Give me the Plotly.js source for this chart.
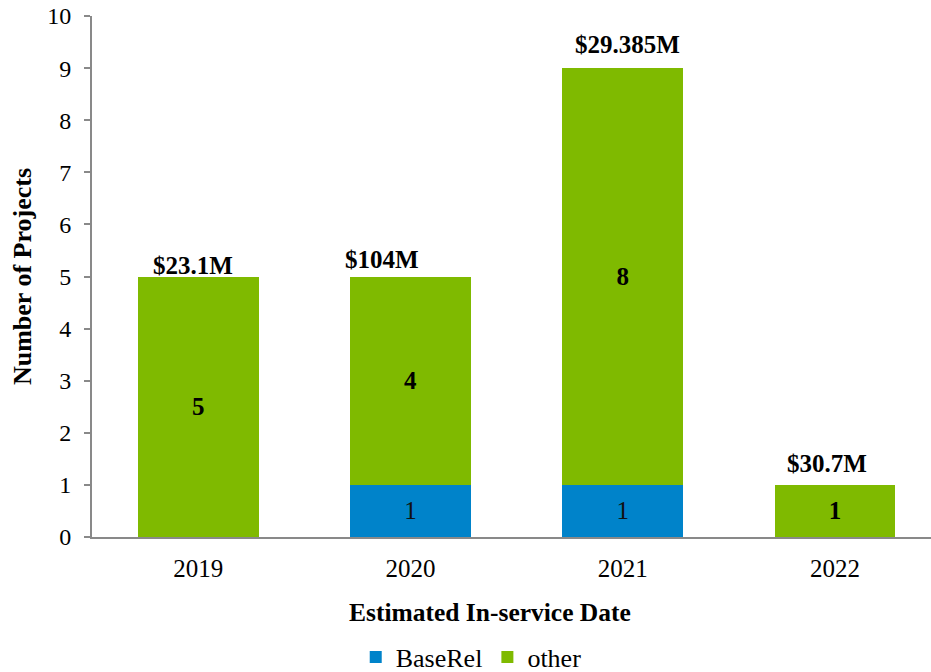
<!DOCTYPE html>
<html>
<head>
<meta charset="utf-8">
<script src="https://cdn.plot.ly/plotly-3.0.1.min.js"></script>
<style>html,body{margin:0;padding:0;background:#fff;}#chart{width:931px;height:672px;}</style>
</head>
<body>
<div id="chart"></div>
<script>
const years = ['2019', '2020', '2021', '2022'];
const baseRel = [0, 1, 1, 0];
const other = [5, 4, 8, 1];
const totalLabels = ['$23.1M', '$104M', '$29.385M', '$30.7M'];

const serif = 'Liberation Serif';
const blue = '#0083CA';
const green = '#7FBA00';

const traces = [
  {
    type: 'bar', name: 'BaseRel', x: years, y: baseRel,
    marker: {color: blue},
    text: baseRel.map(v => v > 0 ? String(v) : ''),
    textposition: 'inside', insidetextanchor: 'middle', constraintext: 'none',
    textfont: {family: serif, size: 25, color: '#111'},
    hoverinfo: 'x+y'
  },
  {
    type: 'bar', name: 'other', x: years, y: other,
    marker: {color: green},
    text: other.map(v => v > 0 ? '<b>' + v + '</b>' : ''),
    textposition: 'inside', insidetextanchor: 'middle', constraintext: 'none',
    textfont: {family: serif, size: 25, color: '#000'},
    hoverinfo: 'x+y'
  }
];

// label placement tweaks (pixels) to mimic the original layout
const labelDx = [-5, -28, 5, -8];
const labelDy = [-4, 2, 8, 6];
const annotations = years.map((yr, i) => ({
  x: i, y: baseRel[i] + other[i], xref: 'x', yref: 'y',
  text: '<b>' + totalLabels[i] + '</b>', showarrow: false, yanchor: 'bottom',
  yshift: labelDy[i], xshift: labelDx[i],
  font: {family: serif, size: 25, color: '#000'}
}));
annotations.push({
  xref: 'paper', yref: 'paper', x: (490 - 92) / 839, y: (537 - 612) / 521,
  xanchor: 'center', yanchor: 'middle', showarrow: false,
  text: '<b>Estimated In-service Date</b>',
  font: {family: serif, size: 25.5, color: '#000'}
});

const layout = {
  width: 931, height: 672,
  margin: {l: 92, r: 0, t: 16, b: 135, autoexpand: false},
  barmode: 'stack', bargap: 0.431,
  paper_bgcolor: '#fff', plot_bgcolor: '#fff',
  font: {family: serif, color: '#000', size: 24},
  showlegend: true,
  legend: {orientation: 'h', x: 0.452, xanchor: 'center', y: (537 - 657) / 521, yanchor: 'middle',
           font: {family: serif, size: 26, color: '#000'}, traceorder: 'normal'},
  xaxis: {
    type: 'category', range: [-0.5, 3.452],
    showline: true, linecolor: '#898989', linewidth: 2,
    ticks: '', showgrid: false, zeroline: false,
    tickfont: {family: serif, size: 25, color: '#000'},
    ticklabelstandoff: 8
  },
  yaxis: {
    range: [0, 10], dtick: 1,
    showline: true, linecolor: '#898989', linewidth: 2,
    ticks: 'outside', ticklen: 6, tickwidth: 2, tickcolor: '#898989',
    showgrid: false, zeroline: false,
    tickfont: {family: serif, size: 24, color: '#000'},
    ticklabelstandoff: 8,
    title: {text: '<b>Number of Projects</b>', standoff: 8,
            font: {family: serif, size: 26, color: '#000'}}
  },
  annotations: annotations
};

Plotly.newPlot('chart', traces, layout, {displayModeBar: false, staticPlot: true});
</script>
</body>
</html>
